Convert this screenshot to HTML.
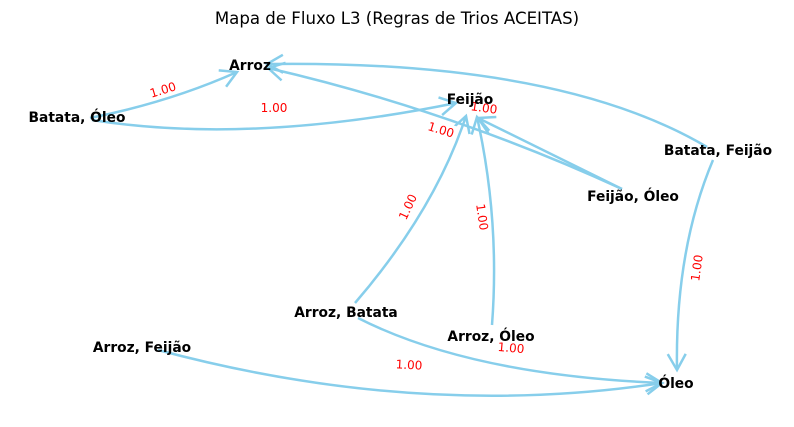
<!DOCTYPE html>
<html><head><meta charset="utf-8"><style>
html,body{margin:0;padding:0;background:#fff;}
svg{display:block;}
.n{font-family:"DejaVu Sans","Liberation Sans",sans-serif;font-weight:bold;font-size:13.8px;fill:#000;}
.l{font-family:"DejaVu Sans","Liberation Sans",sans-serif;font-size:12px;fill:#ff0000;}
.e{fill:none;stroke:#87ceeb;stroke-width:2.5;}
</style></head><body>
<svg width="794" height="427" viewBox="0 0 794 427" xmlns="http://www.w3.org/2000/svg">
<defs>
<marker id="a" markerUnits="userSpaceOnUse" markerWidth="24" markerHeight="24" refX="18" refY="12" orient="auto">
<path d="M2,3 L18,12 L2,21" fill="none" stroke="#87ceeb" stroke-width="2.5"/>
</marker>
</defs>
<text x="397" y="24" text-anchor="middle" font-family="DejaVu Sans, Liberation Sans, sans-serif" font-size="16.6">Mapa de Fluxo L3 (Regras de Trios ACEITAS)</text>
<path class="e" marker-end="url(#a)" d="M90,118 Q170,102 237,72"/>
<path class="e" marker-end="url(#a)" d="M92,120 Q250,145 456,103"/>
<path class="e" marker-end="url(#a)" d="M707,147 Q560,60 267,64"/>
<path class="e" marker-end="url(#a)" d="M622,189 Q450,110 268,68"/>
<path class="e" marker-end="url(#a)" d="M355,303 Q435,210 466,116"/>
<path class="e" marker-end="url(#a)" d="M492,325 Q500,220 477,117"/>
<path class="e" marker-end="url(#a)" d="M622,189 L478,118"/>
<path class="e" marker-end="url(#a)" d="M713,160 Q675,250 677,370"/>
<path class="e" marker-end="url(#a)" d="M358,318 Q470,375 662,383"/>
<path class="e" marker-end="url(#a)" d="M158,350 Q420,420 662,383"/>
<g>
<rect x="146" y="82" width="32" height="14" fill="#fff" transform="rotate(-17 163 90)"/>
<text class="l" x="163" y="94" text-anchor="middle" transform="rotate(-17 163 90)">1.00</text>
<text class="l" x="274" y="112" text-anchor="middle">1.00</text>
<text class="l" x="484" y="112" text-anchor="middle" transform="rotate(8 484 108)">1.00</text>
<rect x="425" y="122" width="32" height="14" fill="#fff" transform="rotate(17 441 130)"/>
<text class="l" x="441" y="134" text-anchor="middle" transform="rotate(17 441 130)">1.00</text>
<rect x="392" y="200" width="32" height="14" fill="#fff" transform="rotate(-65 408 207)"/>
<text class="l" x="408" y="211" text-anchor="middle" transform="rotate(-65 408 207)">1.00</text>
<rect x="466" y="210" width="32" height="14" fill="#fff" transform="rotate(82 482 217)"/>
<text class="l" x="482" y="221" text-anchor="middle" transform="rotate(82 482 217)">1.00</text>
<rect x="681" y="261" width="32" height="14" fill="#fff" transform="rotate(-82 697 268)"/>
<text class="l" x="697" y="272" text-anchor="middle" transform="rotate(-82 697 268)">1.00</text>
<text class="l" x="511" y="352" text-anchor="middle" transform="rotate(5 511 348)">1.00</text>
<text class="l" x="409" y="369" text-anchor="middle" transform="rotate(3 409 365)">1.00</text>
</g>
<text class="n" x="250" y="70" text-anchor="middle">Arroz</text>
<text class="n" x="470" y="104" text-anchor="middle">Feijão</text>
<text class="n" x="77" y="122" text-anchor="middle">Batata, Óleo</text>
<text class="n" x="718" y="155" text-anchor="middle">Batata, Feijão</text>
<text class="n" x="633" y="201" text-anchor="middle">Feijão, Óleo</text>
<text class="n" x="346" y="317" text-anchor="middle">Arroz, Batata</text>
<text class="n" x="491" y="341" text-anchor="middle">Arroz, Óleo</text>
<text class="n" x="142" y="352" text-anchor="middle">Arroz, Feijão</text>
<text class="n" x="676" y="388" text-anchor="middle">Óleo</text>
</svg>
</body></html>
